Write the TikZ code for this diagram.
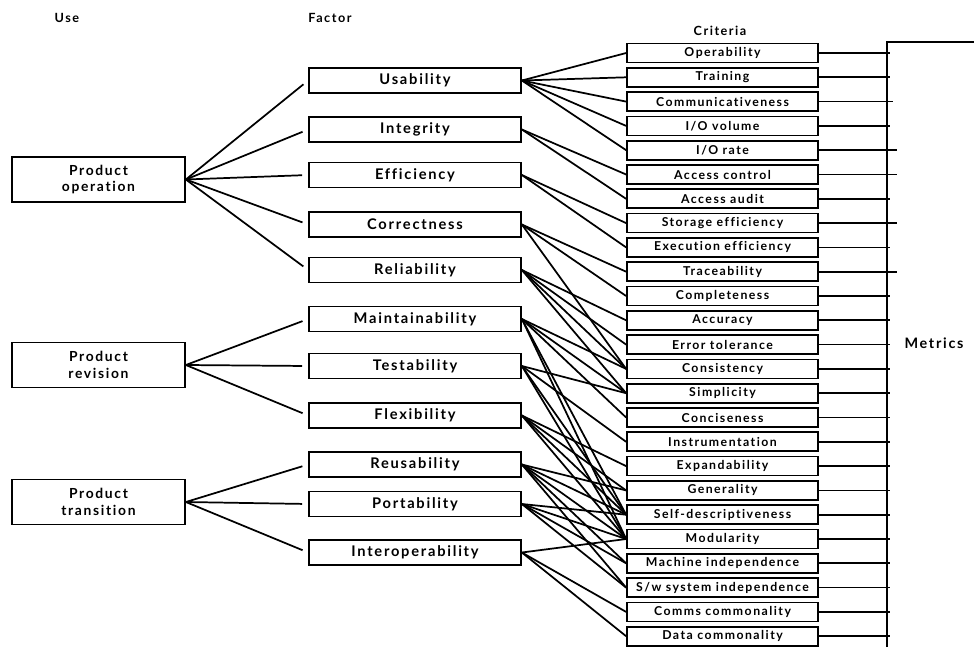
\documentclass[tikz,border=0pt]{standalone}
\usepackage{fontspec}
\usetikzlibrary{calc}
\setmainfont{Lato}
\newfontfamily\spacedfont[LetterSpace=12,Ligatures=CommonOff]{Lato}
\begin{document}
\begin{tikzpicture}[x=0.75pt,y=-0.75pt,
  link/.style={line width=1.3pt},
  usebox/.style={draw,line width=1.3pt,minimum width=129.75pt,minimum height=33.75pt,
    inner sep=0pt,align=center,font=\spacedfont\bfseries\fontsize{10.4}{12.5}\selectfont},
  factorbox/.style={draw,line width=1.3pt,minimum width=159pt,minimum height=18.75pt,
    inner sep=0pt,font=\spacedfont\bfseries\fontsize{11}{12}\selectfont},
  critbox/.style={draw,line width=1.3pt,minimum width=143.25pt,minimum height=14.25pt,
    inner sep=0pt,font=\spacedfont\bfseries\fontsize{9.2}{10}\selectfont},
  heading/.style={inner sep=0pt,font=\spacedfont\bfseries\fontsize{9.5}{10}\selectfont},
  uselink/.style={link,shorten >=4.5pt}]
\useasboundingbox (0,0) rectangle (974,647);

% column headings
\node[heading] (husen) at (67,18) {Use};
\node[heading] (hfactor) at (330,18) {Factor};
\node[heading] (hcrit) at (720,31) {Criteria};

% uses
\node[usebox] (op)  at (98.5,179.5) {Product\\operation};
\node[usebox] (rev) at (98.5,365)   {Product\\revision};
\node[usebox] (tr)  at (98.5,502)   {Product\\transition};

% factors
\foreach \n/\t/\y in {usab/Usability/80.5, integ/Integrity/129.5, effic/Efficiency/175,
    correct/Correctness/224.5, reliab/Reliability/270, maint/Maintainability/319,
    test/Testability/366, flex/Flexibility/415.5, reuse/Reusability/464.5,
    port/Portability/504, interop/Interoperability/552.5}
  \node[factorbox] (\n) at (415,\y) {\t};

% criteria
\foreach \n/\t [count=\i from 0] in {oper/Operability, train/Training,
    comm/Communicativeness, iovol/{I/O volume}, iorate/{I/O rate},
    acctl/Access control, accaud/Access audit, storeff/Storage efficiency,
    execeff/Execution efficiency, trace/Traceability, compl/Completeness,
    accur/Accuracy, errtol/Error tolerance, consis/Consistency, simpl/Simplicity,
    concis/Conciseness, instr/Instrumentation, expand/Expandability,
    gener/Generality, selfd/Self-descriptiveness, modul/Modularity,
    machind/Machine independence, swind/{S/w system independence},
    commsc/Comms commonality, datac/Data commonality}
  \node[critbox] (\n) at (722.5,{53+24.3*\i}) {\t};

% use -> factor
\foreach \u/\f in {op/usab, op/integ, op/effic, op/correct, op/reliab,
    rev/maint, rev/test, rev/flex, tr/reuse, tr/port, tr/interop}
  \draw[uselink] (\u.east) -- (\f.west);

% factor -> criteria
\foreach \f/\c in {usab/oper, usab/train, usab/comm, usab/iovol, usab/iorate,
    integ/acctl, integ/accaud, effic/storeff, effic/execeff,
    correct/trace, correct/compl, correct/consis,
    reliab/accur, reliab/errtol, reliab/consis, reliab/simpl,
    maint/consis, maint/simpl, maint/concis, maint/selfd, maint/modul,
    test/simpl, test/instr, test/selfd, test/modul,
    flex/expand, flex/gener, flex/selfd, flex/modul,
    reuse/gener, reuse/selfd, reuse/modul, reuse/machind, reuse/swind,
    port/selfd, port/modul, port/machind, port/swind,
    interop/modul, interop/commsc, interop/datac}
  \draw[link] (\f.east) -- (\c.west);

% metrics bus
\coordinate (bustop) at (887,42);
\coordinate (busbot) at (887,647);
\coordinate (busend) at (974,42);
\draw[link] (busbot) -- (bustop) -- (busend);
\foreach \c/\e in {oper/3, train/3, comm/6, iovol/3, iorate/10, acctl/10,
    accaud/3, storeff/10, execeff/3, trace/10, compl/3, accur/3, errtol/3,
    consis/3, simpl/3, concis/3, instr/3, expand/3, gener/3, selfd/3,
    modul/3, machind/3, swind/3, commsc/3, datac/3}
  \draw[link] (\c.east) -- ($(\c.east -| bustop)+(\e,0)$);
\node[inner sep=0pt,font=\spacedfont\bfseries\fontsize{10.8}{11}\selectfont] (metrics) at (934,343) {Metrics};
\end{tikzpicture}
\end{document}
